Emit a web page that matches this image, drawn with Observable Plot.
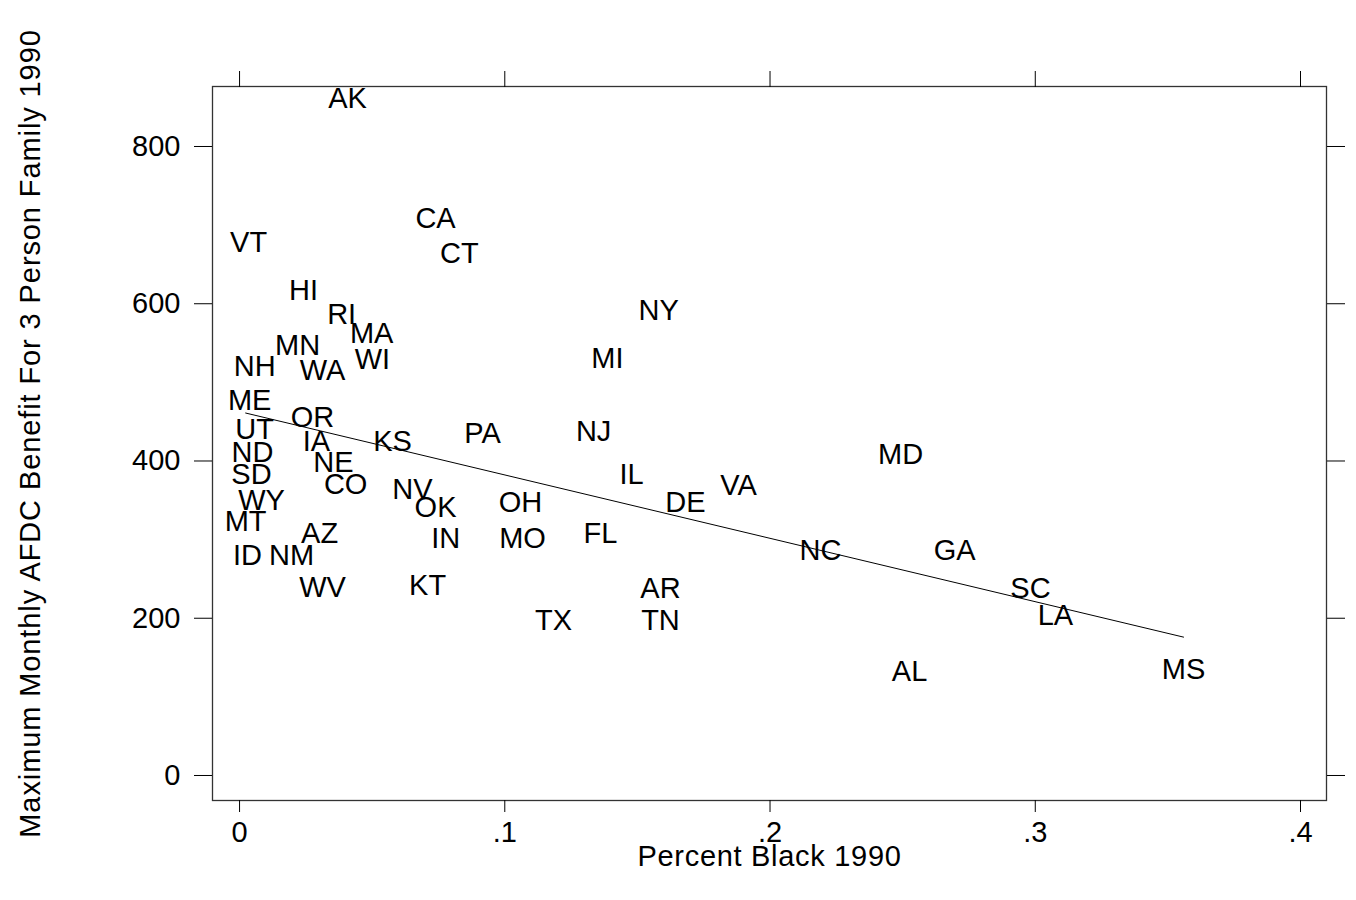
<!DOCTYPE html>
<html>
<head>
<meta charset="utf-8">
<script src="https://cdn.jsdelivr.net/npm/d3@7"></script>
<script src="https://cdn.jsdelivr.net/npm/@observablehq/plot@0.6"></script>
<style>
  html, body { margin: 0; padding: 0; background: white; }
  #chart { width: 1356px; height: 900px; }
</style>
</head>
<body>
<div id="chart"></div>
<script>
const states = ["AK","CA","CT","VT","HI","RI","MA","NY","MN","WI","MI","NH","WA","ME","OR","UT","PA","NJ","IA","KS","MD","ND","NE","IL","SD","CO","VA","NV","WY","OH","DE","OK","MT","FL","AZ","IN","MO","NC","GA","ID","NM","KT","AR","WV","SC","TX","TN","LA","AL","MS"];
const pctBlack = [0.0407,0.0739,0.0829,0.0034,0.0241,0.0385,0.0498,0.158,0.0219,0.0501,0.1387,0.0057,0.0313,0.0038,0.0275,0.0057,0.0916,0.1335,0.029,0.0577,0.2492,0.0049,0.0354,0.1478,0.0045,0.040,0.1881,0.0652,0.0083,0.1059,0.1681,0.0739,0.0023,0.1361,0.0302,0.0777,0.1067,0.219,0.2696,0.003,0.0196,0.0709,0.1587,0.0313,0.2982,0.1184,0.1587,0.3076,0.2526,0.3559];
const benefit = [861,708,663,677,617,586,562,591,546,529,530,520,515,477,455,440,435,437,425,424,408,410,398,382,383,370,368,364,350,347,347,340,323,308,307,301,301,286,286,279,279,242,237,239,238,197,197,203,132,134];
// fitted (linear prediction) line at the data's x extremes
const fitPct = [0.0023, 0.3559];
const fitBenefit = [461, 176];
const xTicks = [0, 0.1, 0.2, 0.3, 0.4];
const yTicks = [0, 200, 400, 600, 800];
const xTitle = "Percent Black 1990";
const yTitle = "Maximum Monthly AFDC Benefit For 3 Person Family 1990";

const data = states.map((s, i) => ({state: s, pct: pctBlack[i], benefit: benefit[i]}));
const fit = fitPct.map((p, i) => ({pct: p, benefit: fitBenefit[i]}));
const fmtX = d => d === 0 ? "0" : d3.format(".1f")(d).replace(/^0/, "");
const font = "'Liberation Sans', Arial, Helvetica, sans-serif";

const svg = Plot.plot({
  width: 1356,
  height: 900,
  marginLeft: 212,
  marginRight: 30,
  marginTop: 86,
  marginBottom: 100,
  x: {domain: [-0.0102, 0.4098]},
  y: {domain: [-31.8, 876.3]},
  style: {fontFamily: font, fontSize: "29px", background: "white", color: "black"},
  marks: [
    Plot.frame({stroke: "#333", strokeWidth: 1.3}),
    Plot.axisX({ticks: xTicks, anchor: "bottom", tickSize: 12, tickPadding: 9, tickFormat: fmtX, label: null, fontSize: 29, stroke: "black"}),
    Plot.axisX({ticks: xTicks, anchor: "top", tickSize: 16, tickFormat: () => "", label: null, stroke: "black"}),
    Plot.axisY({ticks: yTicks, anchor: "left", tickSize: 18, tickPadding: 14, tickFormat: d => String(d), label: null, fontSize: 29, stroke: "black"}),
    Plot.axisY({ticks: yTicks, anchor: "right", tickSize: 18, tickFormat: () => "", label: null, stroke: "black"}),
    Plot.line(fit, {x: "pct", y: "benefit", stroke: "black", strokeWidth: 1}),
    Plot.text(data, {x: "pct", y: "benefit", text: "state", fontSize: 29, fill: "black", textAnchor: "middle", lineAnchor: "middle"}),
    Plot.text([xTitle], {text: d => d, frameAnchor: "bottom", dy: 56, textAnchor: "middle", lineAnchor: "middle", fontSize: 29, fill: "black"}),
    Plot.text([yTitle], {text: d => d, frameAnchor: "left", dx: -182, dy: -10, rotate: -90, textAnchor: "middle", lineAnchor: "middle", fontSize: 29, fill: "black"})
  ]
});

d3.select(svg).selectAll("text").filter(function() { return this.textContent === yTitle; }).attr("letter-spacing", "0.9px");
d3.select(svg).selectAll("text").filter(function() { return this.textContent === xTitle; }).attr("letter-spacing", "0.7px");

document.getElementById("chart").appendChild(svg);
</script>
</body>
</html>
